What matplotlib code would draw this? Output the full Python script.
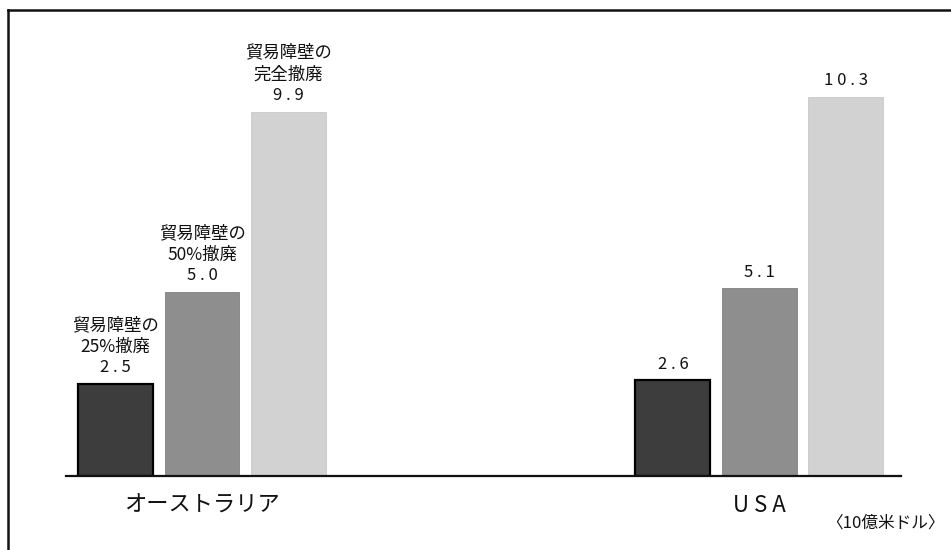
import matplotlib
matplotlib.use("Agg")
import matplotlib.pyplot as plt
from matplotlib.lines import Line2D
import numpy as np

plt.rcParams['font.family'] = ['Noto Sans CJK JP', 'DejaVu Sans']

categories = ["オーストラリア", "USA"]
tick_labels = ["オーストラリア", "U S A"]
series_names = [["貿易障壁の", "25%撤廃"], ["貿易障壁の", "50%撤廃"], ["貿易障壁の", "完全撤廃"]]
australia = [2.5, 5.0, 9.9]
usa = [2.6, 5.1, 10.3]
unit_label = "〈10億米ドル〉"

colors = ["#3d3d3d", "#8e8e8e", "#d2d2d2"]
edges = ["#000000", "#808080", "#c8c8c8"]
edge_w = [1.6, 0.6, 0.6]

W, H = 951, 550
fig = plt.figure(figsize=(W / 100, H / 100), dpi=100)
ax_left, ax_right, ax_bottom, ax_top = 66, 901, 476, 10
ax = fig.add_axes([ax_left / W, (H - ax_bottom) / H,
                   (ax_right - ax_left) / W, (ax_bottom - ax_top) / H])

step = 0.1552
width = 0.1345
group_x = np.arange(len(categories))
values = [australia, usa]
px = 72 / fig.dpi  # points per pixel

for g, vals in zip(group_x, values):
    for i, v in enumerate(vals):
        x = g + (i - 1) * step
        ax.bar(x, v, width=width, color=colors[i], edgecolor=edges[i],
               linewidth=edge_w[i], zorder=2)
        ax.annotate(" ".join(f"{v:.1f}"),
                    (x, v), xytext=(0, 16 * px), textcoords="offset points",
                    ha="center", va="center", fontsize=12, color="#111111")
        if g == 0:
            for j, line in enumerate(reversed(series_names[i])):
                ax.annotate(line, (x, v), xytext=(0, (37.5 + 21.5 * j) * px),
                            textcoords="offset points", ha="center", va="center",
                            fontsize=12.5, color="#111111")

ax.set_xlim(-0.244, 1.254)
ax.set_ylim(0, 466 / 36.8)
for s in ["top", "right", "left"]:
    ax.spines[s].set_visible(False)
ax.spines["bottom"].set_linewidth(1.6)
ax.spines["bottom"].set_color("#111111")
ax.set_yticks([])
ax.set_xticks(group_x)
ax.set_xticklabels(tick_labels, fontsize=16, color="#111111")
ax.tick_params(axis="x", length=0, pad=13)

fig.text(945 / W, 1 - 523 / H, unit_label, ha="right", va="center",
         fontsize=12, color="#111111")

fig.add_artist(Line2D([8 / W, 1], [1 - 10 / H, 1 - 10 / H], color="#111111",
                      linewidth=1.8, transform=fig.transFigure))
fig.add_artist(Line2D([8 / W, 8 / W], [1 - 10 / H, 0], color="#111111",
                      linewidth=1.8, transform=fig.transFigure))

fig.savefig("out.png", dpi=100)
